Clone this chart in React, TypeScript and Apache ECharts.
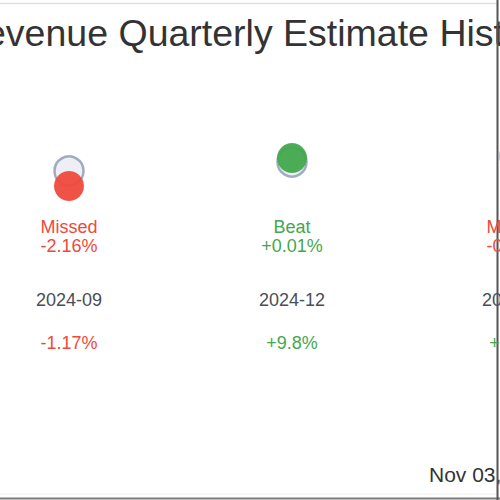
import React, { useEffect, useRef } from "react";
import * as echarts from "echarts";

const categories = ["2024-09", "2024-12", "2025-03"];
const estimates = [1.4, 1.418, 1.43];
const actuals = [1.37, 1.426, 1.42];
const results = ["Missed", "Beat", "Missed"];
const surprises = ["-2.16%", "+0.01%", "-0.70%"];
const changes = ["-1.17%", "+9.8%", "+0.5%"];

const RED = "#f0493c";
const GREEN = "#43a84d";
const FONT = "Liberation Sans, Arial, sans-serif";
const FS = 18;

export default function App() {
  const ref = useRef<HTMLDivElement>(null);
  useEffect(() => {
    if (!ref.current) return;
    const chart = echarts.init(ref.current, undefined, { renderer: "svg" });
    const baseAxis = {
      type: "category",
      data: categories,
      gridIndex: 0,
      position: "bottom",
      axisLine: { show: false },
      axisTick: { show: false },
      splitLine: { show: false },
    };
    const rich = {
      miss: { color: RED, fontSize: FS, lineHeight: 19, fontFamily: FONT },
      beat: { color: GREEN, fontSize: FS, lineHeight: 19, fontFamily: FONT },
    };
    chart.setOption({
      animation: false,
      backgroundColor: "#ffffff",
      grid: {
        left: -42.5,
        width: 669,
        top: 121,
        height: 90,
        outerBoundsMode: "none",
        containLabel: false,
      },
      xAxis: [
        {
          ...baseAxis,
          axisLabel: {
            interval: 0,
            margin: 6,
            fontFamily: FONT,
            formatter: (_v: string, i: number) => {
              const k = results[i] === "Beat" ? "beat" : "miss";
              return `{${k}|${results[i]}}\n{${k}|${surprises[i]}}`;
            },
            rich,
          },
        },
        {
          ...baseAxis,
          axisLabel: {
            interval: 0,
            margin: 79.5,
            color: "#4a4d58",
            fontSize: FS,
            lineHeight: 19,
            fontFamily: FONT,
          },
        },
        {
          ...baseAxis,
          axisLabel: {
            interval: 0,
            margin: 122.5,
            fontFamily: FONT,
            formatter: (_v: string, i: number) => {
              const k = changes[i].startsWith("-") ? "miss" : "beat";
              return `{${k}|${changes[i]}}`;
            },
            rich,
          },
        },
      ],
      yAxis: { type: "value", min: 1.32, max: 1.5, show: false },
      series: [
        {
          type: "scatter",
          name: "Estimate",
          xAxisIndex: 0,
          symbolSize: 29,
          clip: false,
          itemStyle: { color: "#e8ebf2", borderColor: "#8b97b2", borderWidth: 2.5 },
          data: estimates,
          z: 2,
        },
        {
          type: "scatter",
          name: "Actual",
          xAxisIndex: 0,
          symbolSize: 30,
          clip: false,
          data: actuals.map((v, i) => ({
            value: v,
            itemStyle: { color: results[i] === "Beat" ? GREEN : RED, opacity: 0.95 },
          })),
          z: 3,
        },
      ],
      graphic: [
        {
          type: "text",
          x: 257,
          y: 33,
          style: {
            text: "Revenue Quarterly Estimate History",
            fontSize: 37.5,
            fontFamily: FONT,
            fill: "#333333",
            textAlign: "center",
            textVerticalAlign: "middle",
          },
        },
        {
          type: "text",
          x: 429,
          y: 474,
          style: {
            text: "Nov 03, 2025",
            fontSize: 21,
            fontFamily: FONT,
            fill: "#333333",
            textAlign: "left",
            textVerticalAlign: "middle",
          },
        },
        { type: "line", shape: { x1: 0, y1: 3.5, x2: 497, y2: 3.5 }, style: { stroke: "#dde2ea", lineWidth: 1.5 } },
        { type: "line", shape: { x1: 0, y1: 494, x2: 497, y2: 494 }, style: { stroke: "#eeeeee", lineWidth: 1 } },
        { type: "line", shape: { x1: 0, y1: 498.5, x2: 500, y2: 498.5 }, style: { stroke: "#7a7a7a", lineWidth: 2 } },
        { type: "line", shape: { x1: 497.5, y1: 0, x2: 497.5, y2: 500 }, style: { stroke: "#555555", lineWidth: 2 } },
      ],
    });
    return () => chart.dispose();
  }, []);
  return (
    <div
      ref={ref}
      style={{ position: "fixed", left: 0, top: 0, width: 500, height: 500 }}
    />
  );
}
